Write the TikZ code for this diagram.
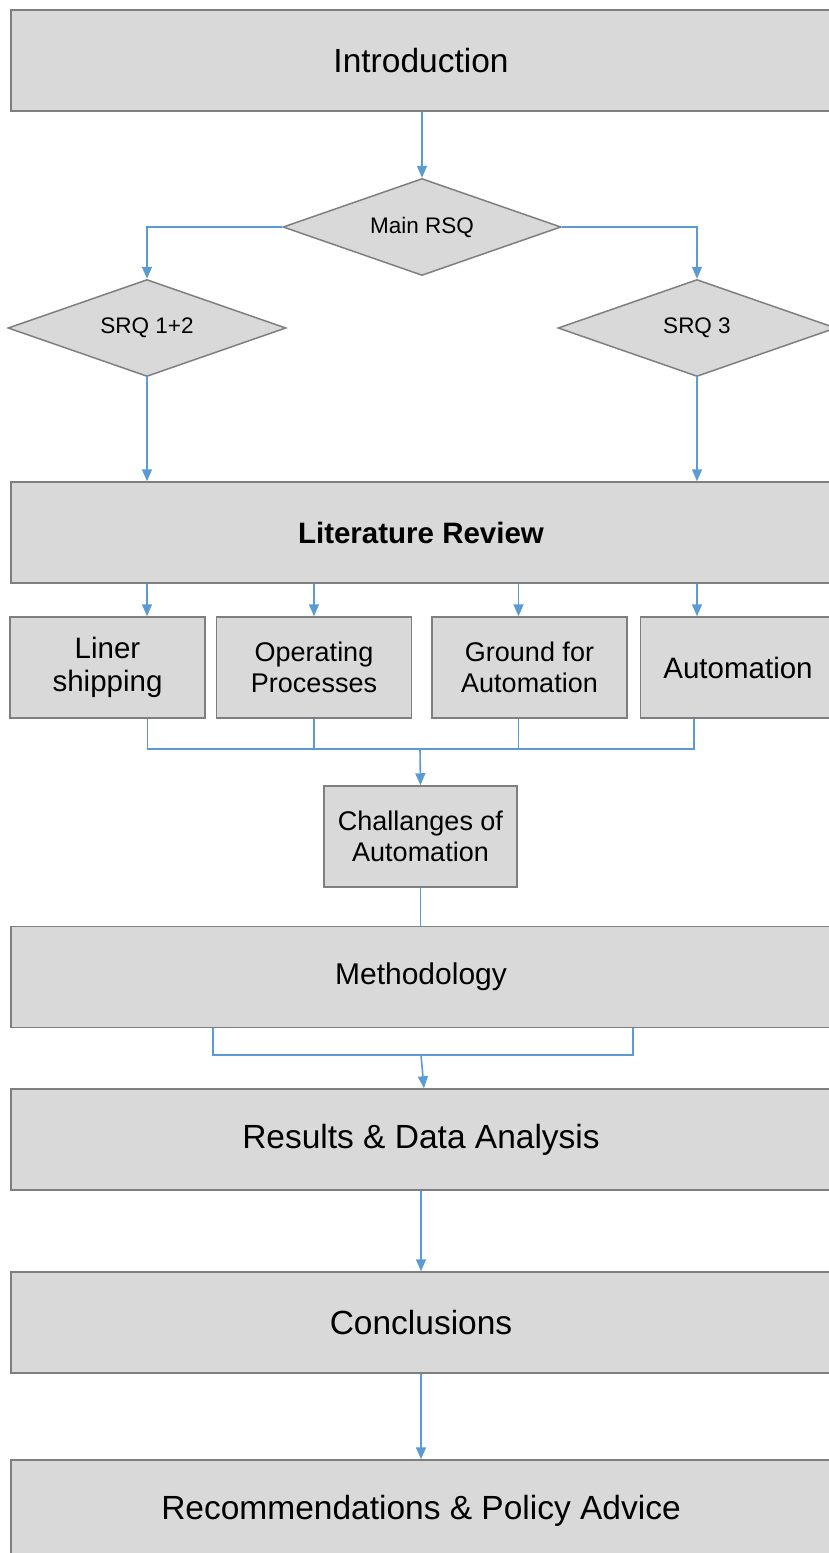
\documentclass[tikz,border=0pt]{standalone}
\usepackage{fontspec}
\setmainfont{Liberation Sans}
\usepackage{tikz}
\usetikzlibrary{shapes,arrows,positioning,calc,arrows.meta}
\definecolor{boxfill}{HTML}{D9D9D9}
\definecolor{boxgray}{HTML}{7F7F7F}
\definecolor{linkblue}{HTML}{5B9BD5}
\tikzset{
  bigbox/.style={rectangle, draw=boxgray, fill=boxfill, line width=1.5pt, minimum width=820pt, minimum height=101pt, inner sep=0pt, font=\fontsize{33.5}{40}\selectfont},
  smallbox/.style={rectangle, draw=boxgray, fill=boxfill, line width=1.5pt, minimum width=195pt, minimum height=101pt, inner sep=0pt, align=center, font=\fontsize{27}{31}\selectfont},
  question/.style={diamond, aspect=2.8, draw=boxgray, fill=boxfill, line width=1.5pt, minimum width=278pt, minimum height=97pt, inner sep=0pt, font=\fontsize{22.5}{26}\selectfont},
  arr/.style={draw=linkblue, line width=1.6pt, -{Triangle[width=10pt,length=12pt]}},
  link/.style={draw=linkblue, line width=1.6pt}
}
\begin{document}
\begin{tikzpicture}[x=1pt,y=-1pt]
    \useasboundingbox (0,0) rectangle (829,1553);
    \node[bigbox] (intro) at (421,60.5) {Introduction};
    \node[question] (rsq) at (422,227) {Main RSQ};
    \node[question] (srq12) at (147,328) {SRQ 1+2};
    \node[question] (srq3) at (697,328) {SRQ 3};
    \node[bigbox, font=\fontsize{29.5}{36}\selectfont\bfseries] (lit) at (421,532.5) {Literature Review};
    \node[smallbox, font=\fontsize{29.5}{33}\selectfont] (liner) at (107.5,667.5) {Liner\\shipping};
    \node[smallbox] (ops) at (314,667.5) {Operating\\Processes};
    \node[smallbox] (ground) at (529.5,667.5) {Ground for\\Automation};
    \node[smallbox, font=\fontsize{29.5}{33}\selectfont] (auto) at (738,667.5) {Automation};
    \node[smallbox, minimum width=193pt] (chal) at (420.5,836.5) {Challanges of\\Automation};
    \node[bigbox, font=\fontsize{30}{36}\selectfont] (meth) at (421,977) {Methodology};
    \node[bigbox] (results) at (421,1139.5) {Results \& Data Analysis};
    \node[bigbox] (concl) at (421,1322.5) {Conclusions};
    \node[bigbox] (advice) at (421,1510.5) {Recommendations \& Policy Advice};
    \coordinate (litjoin) at (420,749);
    \coordinate (methjoin) at (421,1055);

    \draw[arr] (intro.south -| rsq.north) -- (rsq.north);
    \draw[arr] (rsq.west) -| (srq12.north);
    \draw[arr] (rsq.east) -| (srq3.north);
    \draw[arr] (srq12.south) -- (lit.north -| srq12.south);
    \draw[arr] (srq3.south) -- (lit.north -| srq3.south);
    \draw[arr] (lit.south -| srq12.south) -- (liner.north -| srq12.south);
    \draw[arr] (lit.south -| ops.north) -- (ops.north);
    \draw[arr] ([xshift=-11pt]ground.north |- lit.south) -- ([xshift=-11pt]ground.north);
    \draw[arr] (lit.south -| srq3.south) -- (auto.north -| srq3.south);
    \draw[link] ([xshift=40pt]liner.south) |- (litjoin);
    \draw[link] (ops.south) -- (ops.south |- litjoin);
    \draw[link] ([xshift=-11pt]ground.south) -- ([xshift=-11pt]ground.south |- litjoin);
    \draw[link] ([xshift=-44pt]auto.south) |- (litjoin);
    \draw[arr] (litjoin) -- (chal.north);
    \draw[link] (chal.south) -- (meth.north -| chal.south);
    \draw[link] ([xshift=-208pt]meth.south) |- (methjoin);
    \draw[link] ([xshift=212pt]meth.south) |- (methjoin);
    \draw[arr] (methjoin) -- ([xshift=3pt]results.north);
    \draw[arr] (results.south) -- (concl.north);
    \draw[arr] (concl.south) -- (advice.north);
\end{tikzpicture}
\end{document}
